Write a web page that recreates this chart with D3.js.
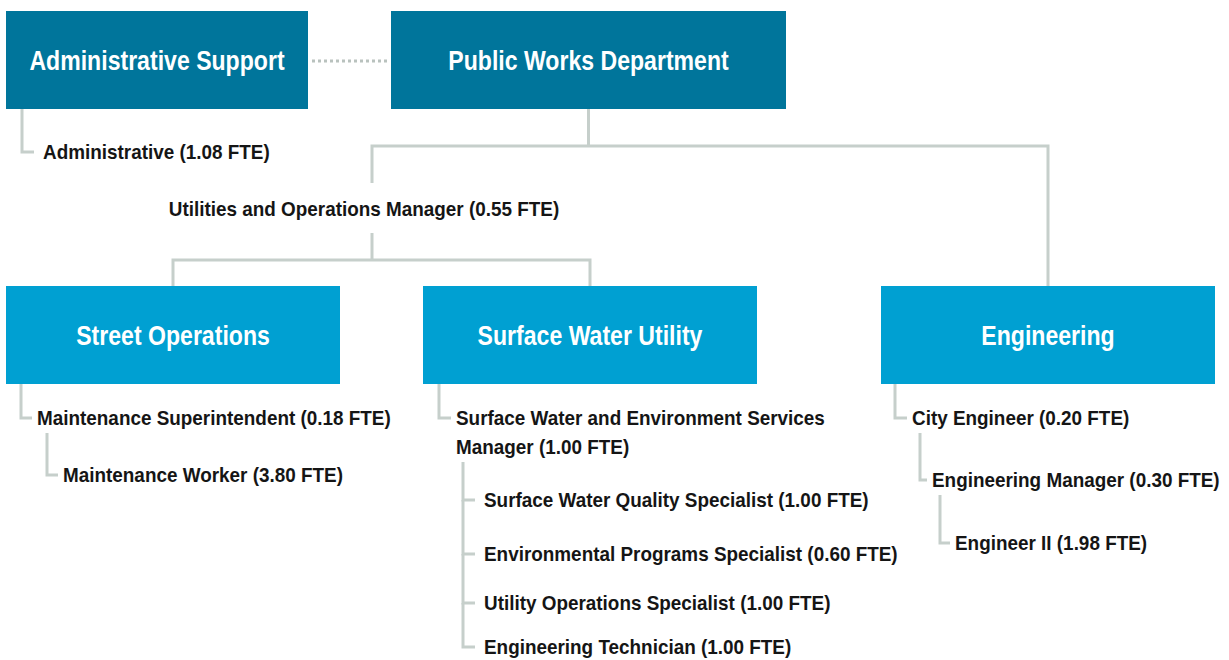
<!DOCTYPE html>
<html>
<head>
<meta charset="utf-8">
<script src="https://cdn.jsdelivr.net/npm/d3@7"></script>
<style>
  body { margin: 0; background: #fff; }
  svg text { font-family: "Liberation Sans", Arial, sans-serif; }
</style>
</head>
<body>
<div id="chart"></div>
<script>
// org units (boxes)
const units = ["Administrative Support", "Public Works Department", "Street Operations", "Surface Water Utility", "Engineering"]
const unitTier = ["top", "top", "sub", "sub", "sub"]

// staff positions under each unit
const positions = [
  "Administrative",
  "Maintenance Superintendent", "Maintenance Worker",
  "Surface Water and Environment Services|Manager",
  "Surface Water Quality Specialist", "Environmental Programs Specialist",
  "Utility Operations Specialist", "Engineering Technician",
  "City Engineer", "Engineering Manager", "Engineer II"
]
const positionFte = [1.08, 0.18, 3.80, 1.00, 1.00, 0.60, 1.00, 1.00, 0.20, 0.30, 1.98]
const positionUnit = [0, 2, 2, 3, 3, 3, 3, 3, 4, 4, 4]
const positionLevel = [1, 1, 2, 1, 2, 2, 2, 2, 1, 2, 3]

const middleManager = { title: "Utilities and Operations Manager", fte: 0.55 }

// ---- layout ----
const width = 1229, height = 660
const fmt = d3.format(".2f")
const colors = { top: "#00759b", sub: "#00a0d2", line: "#c6cfcb", dots: "#b9c2be", text: "#151515" }
const squeeze = 0.9      // fake a condensed face
const boxSqueeze = 0.855

const tierY = d3.scaleOrdinal().domain(["top", "sub"]).range([11, 286])
const boxH = 98
const boxX = [6, 391, 6, 423, 881]
const boxW = [302, 395, 334, 334, 334]

// vertical position of each row, its connector stem and text start
const rowY = [152, 418, 475, 418, 500, 554, 603, 647, 418, 480, 543]
const stemX = [22, 21, 47, 439, 463, 463, 463, 463, 895, 920, 940]
const textX = [43, 37, 63, 456, 484, 484, 484, 484, 912, 932, 955]

const svg = d3.select("#chart").append("svg")
  .attr("width", width)
  .attr("height", height)
  .attr("viewBox", [0, 0, width, height])

const box = i => ({ x: boxX[i], y: tierY(unitTier[i]), w: boxW[i], h: boxH, cx: boxX[i] + boxW[i] / 2 })

const lines = svg.append("g").classed("connectors", true)
  .attr("fill", "none")
  .attr("stroke", colors.line)
  .attr("stroke-width", 3)

// dotted link admin support -> department
const a = box(0), p = box(1)
svg.append("line")
  .attr("x1", a.x + a.w + 4).attr("x2", p.x - 2)
  .attr("y1", a.y + a.h / 2 + 1).attr("y2", a.y + a.h / 2 + 1)
  .attr("stroke", colors.dots)
  .attr("stroke-width", 3)
  .attr("stroke-dasharray", "3,3")

// department -> manager / engineering
const mgrX = 372, busY1 = 146, mgrY = 209, busY2 = 260
const eng = box(4), so = box(2), sw = box(3)
lines.append("path").attr("d", `M${p.cx},${p.y + p.h}V${busY1}`)
lines.append("path").attr("d", `M${mgrX},${mgrY - 26}V${busY1}H${eng.cx}V${eng.y}`)
lines.append("path").attr("d", `M${mgrX},${mgrY + 24}V${busY2}`)
lines.append("path").attr("d", `M${so.cx},${so.y}V${busY2}H${sw.cx}V${sw.y}`)

svg.append("text")
  .attr("transform", `translate(364,${mgrY}) scale(${squeeze},1)`)
  .attr("dy", "0.35em")
  .attr("text-anchor", "middle")
  .attr("font-size", 21)
  .attr("font-weight", "bold")
  .attr("fill", colors.text)
  .text(`${middleManager.title} (${fmt(middleManager.fte)} FTE)`)

// boxes
const boxes = svg.append("g").classed("units", true)
  .selectAll("g")
  .data(units.map((u, i) => ({ name: u, ...box(i), tier: unitTier[i] })))
  .enter().append("g")

boxes.append("rect")
  .attr("x", d => d.x).attr("y", d => d.y)
  .attr("width", d => d.w).attr("height", d => d.h)
  .attr("fill", d => colors[d.tier])

boxes.append("text")
  .attr("transform", d => `translate(${d.cx},${d.y + d.h / 2 + 1}) scale(${boxSqueeze},1)`)
  .attr("dy", "0.35em")
  .attr("text-anchor", "middle")
  .attr("font-size", 27)
  .attr("font-weight", "bold")
  .attr("fill", "#fff")
  .text(d => d.name)

// staff rows
const staff = positions.map((t, i) => ({
  lines: t.split("|"), fte: positionFte[i], unit: positionUnit[i], level: positionLevel[i],
  y: rowY[i], stem: stemX[i], tx: textX[i]
}))

staff.forEach((d, i) => {
  let top
  if (d.level === 1) top = box(d.unit).y + boxH
  else if (staff[i - 1].level === d.level) top = staff[i - 1].y
  else {
    const parent = staff[i - 1]
    top = parent.y + 15 + (parent.lines.length - 1) * 29
  }
  const tickEnd = Math.min(d.stem + 12, d.tx - 5)
  lines.append("path").attr("d", `M${d.stem},${top}V${d.y}H${tickEnd}`)
})

const labels = svg.append("g").classed("staff", true)
  .attr("font-size", 21)
  .attr("font-weight", "bold")
  .attr("fill", colors.text)
  .selectAll("text")
  .data(staff)
  .enter().append("text")
  .attr("transform", d => `translate(${d.tx},${d.y}) scale(${squeeze},1)`)

labels.selectAll("tspan")
  .data(d => d.lines.map((l, k) => ({ text: k === d.lines.length - 1 ? `${l} (${fmt(d.fte)} FTE)` : l, k })))
  .enter().append("tspan")
  .attr("x", 0)
  .attr("dy", t => t.k === 0 ? "0.35em" : 29)
  .text(t => t.text)
</script>
</body>
</html>
